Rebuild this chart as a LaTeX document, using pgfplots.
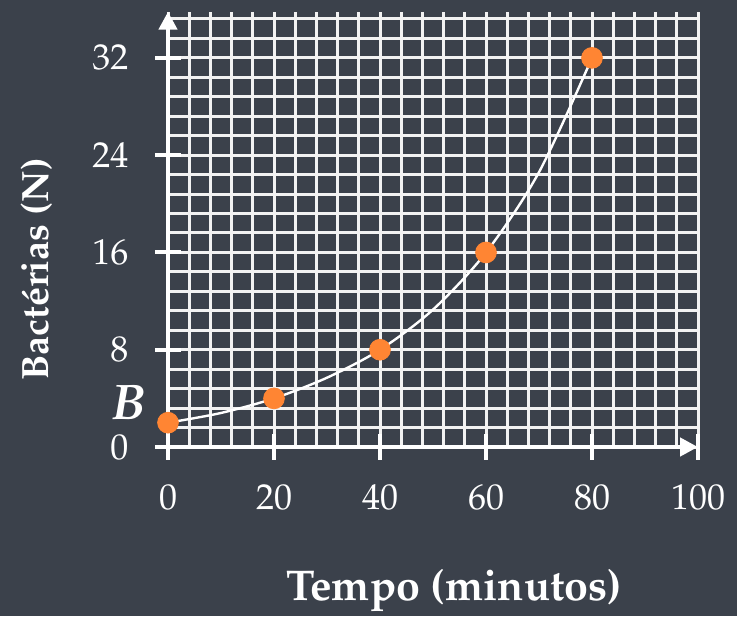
\documentclass[border=0pt]{standalone}
\usepackage[T1]{fontenc}
\usepackage{mathpazo}
\usepackage{pgfplots}
\pgfplotsset{compat=1.18}
\usetikzlibrary{arrows.meta}

\definecolor{bg}{HTML}{3B414B}
\definecolor{dot}{HTML}{FF8533}
\definecolor{gridc}{HTML}{F2F2F2}

\begin{document}
\begin{tikzpicture}
% page: 737 x 616 px at 0.5pt per px
\fill[bg] (0,0) rectangle (368.5pt,-308pt);
\useasboundingbox (0,0) rectangle (368.5pt,-308pt);
\begin{axis}[
    at={(84pt,-223.5pt)}, anchor=origin,
    x=2.65pt, y=6.08pt,
    xmin=0, xmax=100, ymin=0, ymax=35.8,
    axis line style={draw=none},
    tick style={draw=none},
    xticklabels={}, yticklabels={},
    clip=false,
    xtick={0,20,...,100}, ytick={0,8,...,32},
    minor xtick={0,4,...,100},
    minor ytick={0,1.6,...,35.3},
    grid=both,
    grid style={gridc, line width=1.5pt},
]
  \draw[white, line width=2.2pt, -{Triangle[length=9pt,width=9pt]}] (axis cs:0,0) -- (axis cs:100,0);
  \draw[white, line width=2.2pt, -{Triangle[length=9pt,width=9pt]}] (axis cs:0,0) -- (axis cs:0,35.8);
  \pgfplotsinvokeforeach{0,20,...,100}{
    \draw[white, line width=2pt] (axis cs:#1,0) ++(0,6.5pt) -- ++(0,-13pt)
      node[below=8pt, font=\fontsize{18}{21}\selectfont] {#1};
  }
  \pgfplotsinvokeforeach{0,8,...,32}{
    \draw[white, line width=2pt] (axis cs:0,#1) ++(6.5pt,0) -- ++(-13pt,0)
      node[left=9pt, font=\fontsize{18}{21}\selectfont] {#1};
  }

  \addplot[white, line width=1.2pt, smooth] coordinates {
    (0,2) (10,2.8) (20,4) (30,5.7) (40,8) (50,11.3) (60,16) (70,22.6) (80,32)
  };
  \addplot[only marks, mark=*, mark size=5.2pt, dot, mark options={draw=none}] coordinates {
    (0,2) (20,4) (40,8) (60,16) (80,32)
  };

  \node[white, font=\bfseries\itshape\fontsize{25}{28}\selectfont] at (axis cs:-7.4,3.6) {B};
  \node[white, font=\bfseries\fontsize{21.5}{25}\selectfont] at (axis cs:54,-11.8) {Tempo (minutos)};
  \node[white, rotate=90, font=\bfseries\fontsize{19}{22}\selectfont] at (axis cs:-24.8,14.6) {Bactérias (N)};
\end{axis}
\end{tikzpicture}
\end{document}
